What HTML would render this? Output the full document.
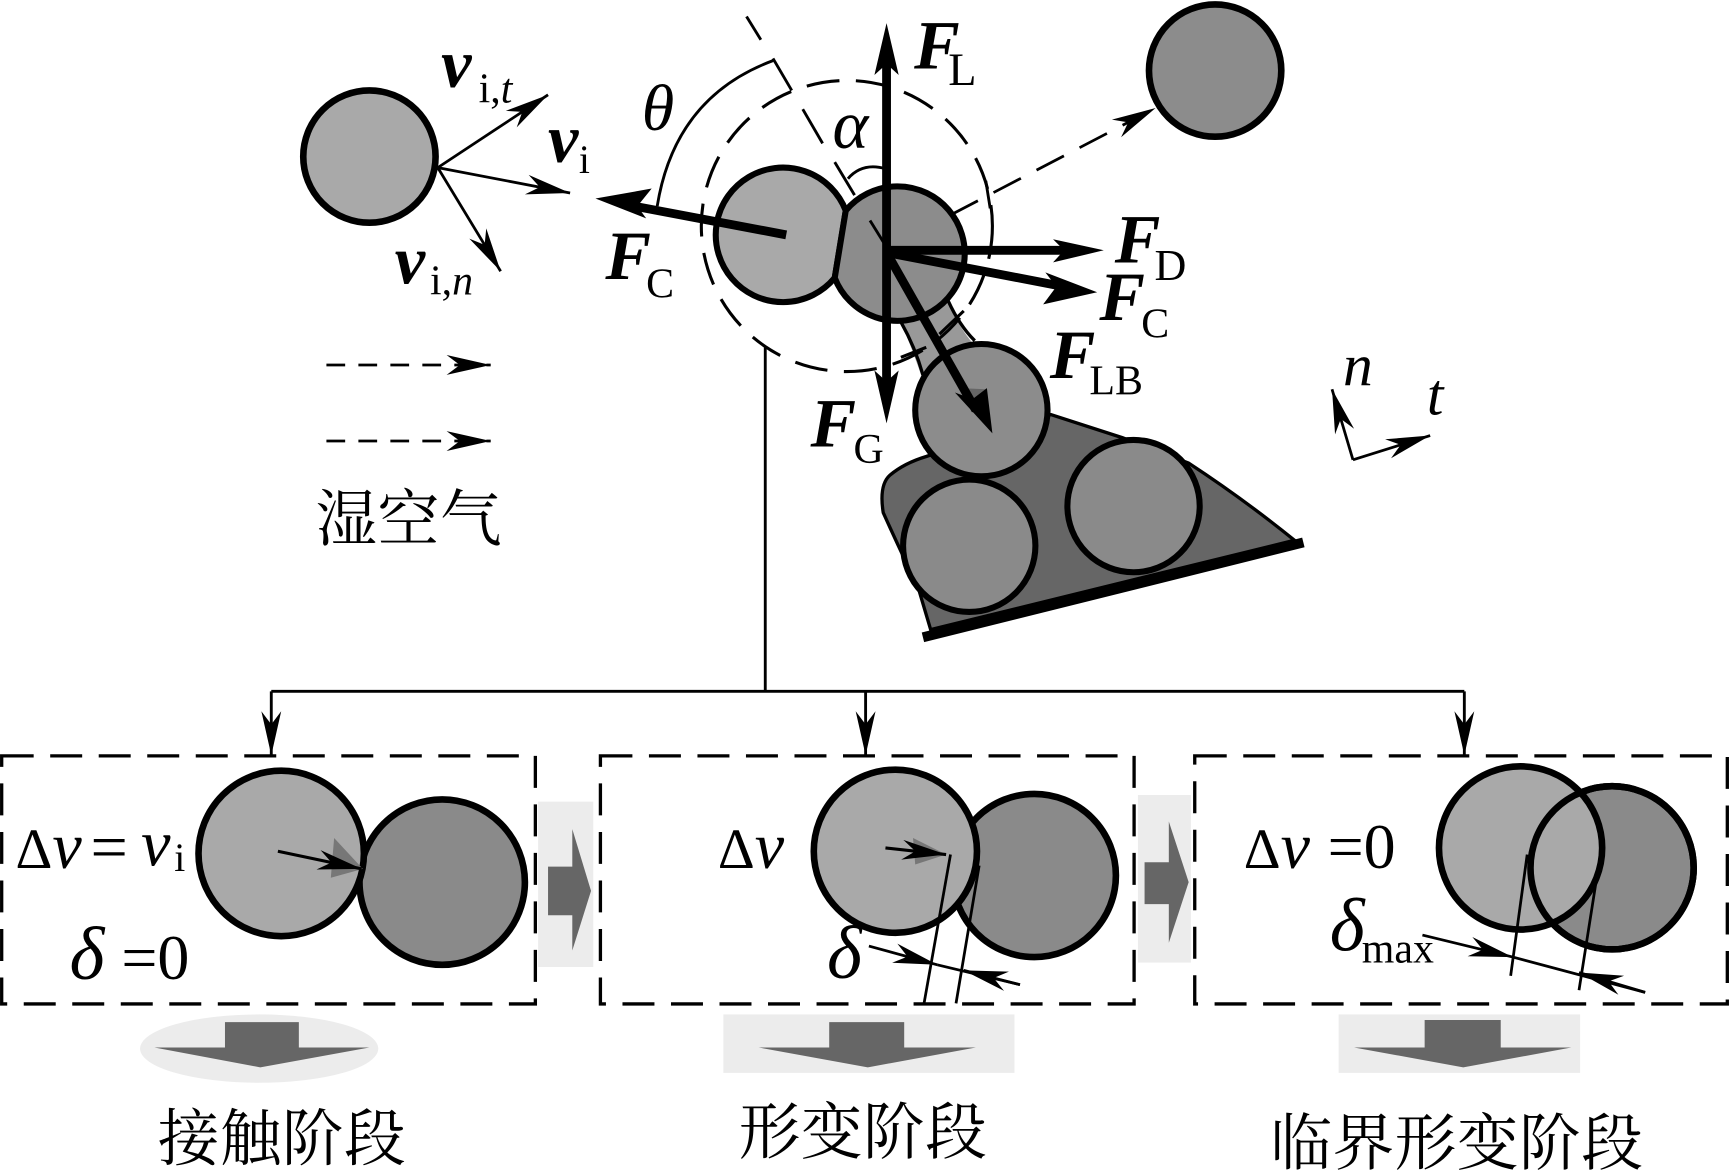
<!DOCTYPE html>
<html><head><meta charset="utf-8"><style>
html,body{margin:0;padding:0;background:#fff}
svg{display:block}
text{font-family:"Liberation Serif","Noto Serif CJK SC",serif;fill:#000}
.b{font-weight:bold;font-style:italic}
.i{font-style:italic}
.cj{font-family:"Liberation Serif","Noto Serif CJK SC",serif}
</style></head><body>
<svg width="1729" height="1171" viewBox="0 0 1568 1062" xmlns="http://www.w3.org/2000/svg">
<defs>
<marker id="t" markerUnits="userSpaceOnUse" markerWidth="44" markerHeight="24" refX="40" refY="12" orient="auto"><path d="M0 3L40 12L0 21L12 12Z" fill="#000"/></marker>
</defs>
<rect width="1568" height="1062" fill="#fff"/>

<!-- left free circle & velocities -->
<circle cx="335" cy="142" r="60" fill="#a9a9a9" stroke="#000" stroke-width="6"/>
<g stroke="#000" stroke-width="2.5" fill="none">
<line x1="397" y1="152" x2="497" y2="86" marker-end="url(#t)"/>
<line x1="397" y1="152" x2="517" y2="175" marker-end="url(#t)"/>
<line x1="397" y1="152" x2="454" y2="246" marker-end="url(#t)"/>
<line x1="296" y1="331" x2="445" y2="331" stroke-dasharray="17 12" marker-end="url(#t)"/>
<line x1="296" y1="400" x2="445" y2="400" stroke-dasharray="17 12" marker-end="url(#t)"/>
<line x1="862" y1="195" x2="1048" y2="98" stroke-dasharray="28 16" marker-end="url(#t)"/>
</g>

<!-- top right circle -->
<circle cx="1102" cy="64" r="60" fill="#8c8c8c" stroke="#000" stroke-width="6"/>

<!-- blob -->
<path d="M953 376L1018 397L1078 420Q1127 452 1174 490L844 571L833 534Q815 496 801 465Q797 440 807 431Q820 420 840 414Z" fill="#666" stroke="#000" stroke-width="3"/>
<line x1="837" y1="578" x2="1182" y2="492" stroke="#000" stroke-width="9"/>
<circle cx="1028" cy="459" r="60" fill="#8a8a8a" stroke="#000" stroke-width="5.5"/>
<circle cx="879" cy="495" r="60" fill="#8a8a8a" stroke="#000" stroke-width="5.5"/>

<!-- bridge -->
<path d="M817 292Q828 318 837 345L890 320Q870 300 860 273Z" fill="#999" stroke="none"/>
<path d="M817 292Q830 315 837 340M860 273Q870 295 884 309" fill="none" stroke="#000" stroke-width="3"/>
<circle cx="890" cy="372" r="60" fill="#8c8c8c" stroke="#000" stroke-width="5.5"/>
<path d="M871 352L894 353L893 372Z" fill="#666"/>

<!-- dashed influence circle -->
<circle cx="768" cy="205" r="132" fill="none" stroke="#000" stroke-width="2.8" stroke-dasharray="30 15"/>

<!-- central contacting pair -->
<path d="M767 191A61 61 0 1 0 757 252Z" fill="#a9a9a9" stroke="#000" stroke-width="5.5" stroke-linejoin="round"/>
<path d="M767 191A61 61 0 1 1 757 252Z" fill="#8c8c8c" stroke="#000" stroke-width="5.5" stroke-linejoin="round"/>
<line x1="817" y1="324" x2="840" y2="315" stroke="#000" stroke-width="2.8"/>
<line x1="852" y1="303" x2="874" y2="282" stroke="#000" stroke-width="2.8"/>

<!-- angle lines -->
<g stroke="#000" stroke-width="2.6" fill="none">
<line x1="677" y1="15" x2="690" y2="36"/>
<line x1="701" y1="53" x2="718" y2="82"/>
<line x1="728" y1="99" x2="746" y2="130"/>
<line x1="757" y1="147" x2="775" y2="177"/>
<line x1="789" y1="200" x2="807" y2="229"/>
<path d="M596 187Q612 88 701 55"/>
<path d="M769 162Q782 147 803 153"/>
<line x1="894" y1="164" x2="898" y2="189"/>
</g>

<!-- forces -->
<g stroke="#000" stroke-width="8" fill="none">
<line x1="804" y1="229" x2="804" y2="48"/>
<line x1="804" y1="229" x2="804" y2="356"/>
<line x1="804" y1="227" x2="975" y2="227"/>
<line x1="804" y1="229" x2="965" y2="260"/>
<line x1="804" y1="229" x2="885" y2="372"/>
<line x1="713" y1="213" x2="570" y2="186"/>
</g>
<g fill="#000">
<path d="M804 21L815 68L804 58L793 68Z"/>
<path d="M804 384L793 336L804 346L815 336Z"/>
<path d="M1001 227L955 217L965 227L955 238Z"/>
<path d="M995 265L948 247L958 260L946 276Z"/>
<path d="M900 393L866 356L882 362L895 352Z"/>
<path d="M540 180L591 171L578 187L586 198Z"/>
</g>

<!-- n t axes -->
<g stroke="#000" stroke-width="2.5" fill="none">
<line x1="1227" y1="417" x2="1208" y2="353" marker-end="url(#t)"/>
<line x1="1227" y1="417" x2="1297" y2="395" marker-end="url(#t)"/>
</g>

<!-- tree -->
<g stroke="#000" stroke-width="2.6" fill="none">
<line x1="694" y1="315" x2="694" y2="627"/>
<line x1="246" y1="627" x2="1328" y2="627"/>
<line x1="246" y1="627" x2="246" y2="685" marker-end="url(#t)"/>
<line x1="785" y1="627" x2="785" y2="685" marker-end="url(#t)"/>
<line x1="1328" y1="627" x2="1328" y2="685" marker-end="url(#t)"/>
</g>

<!-- boxes -->
<g stroke="#000" stroke-width="3" fill="none" stroke-dasharray="29 15">
<rect x="1.5" y="685.5" width="484" height="225"/>
<rect x="544.5" y="685.5" width="484" height="225"/>
<rect x="1083.5" y="685.5" width="483" height="225"/>
</g>

<!-- box 1 -->
<ellipse cx="401" cy="800" rx="75" ry="75" fill="#8a8a8a" stroke="#000" stroke-width="6"/>
<ellipse cx="255" cy="774" rx="75" ry="75" fill="#a9a9a9" stroke="#000" stroke-width="6"/>
<path d="M303 760L329 788L300 796Z" fill="#777"/>
<line x1="252" y1="772" x2="328" y2="788" stroke="#000" stroke-width="2.8" marker-end="url(#t)"/>

<!-- box 2 -->
<circle cx="938" cy="794" r="74" fill="#8a8a8a" stroke="#000" stroke-width="6"/>
<circle cx="812" cy="772" r="74" fill="#a9a9a9" stroke="#000" stroke-width="6"/>
<path d="M828 760L858 775L830 784Z" fill="#777"/>
<line x1="803" y1="769" x2="858" y2="775" stroke="#000" stroke-width="2.8" marker-end="url(#t)"/>
<g stroke="#000" stroke-width="2.5" fill="none">
<line x1="862" y1="775" x2="838" y2="910"/>
<line x1="888" y1="785" x2="867" y2="910"/>
<line x1="788" y1="858" x2="850" y2="875" marker-end="url(#t)"/>
<line x1="850" y1="875" x2="925" y2="893"/>
<line x1="925" y1="893" x2="874" y2="880" marker-end="url(#t)"/>
</g>

<!-- box 3 -->
<circle cx="1462" cy="787" r="74" fill="#8a8a8a" stroke="#000" stroke-width="6"/>
<circle cx="1379" cy="769" r="74" fill="#a9a9a9" stroke="#000" stroke-width="6"/>
<circle cx="1462" cy="787" r="74" fill="none" stroke="#000" stroke-width="6"/>
<g stroke="#000" stroke-width="2.5" fill="none">
<line x1="1385" y1="775" x2="1370" y2="885"/>
<line x1="1449" y1="790" x2="1432" y2="898"/>
<line x1="1290" y1="848" x2="1372" y2="868" marker-end="url(#t)"/>
<line x1="1372" y1="868" x2="1492" y2="900"/>
<line x1="1492" y1="900" x2="1432" y2="882" marker-end="url(#t)"/>
</g>

<!-- gray block arrows -->
<rect x="488" y="727" width="50" height="150" fill="#ececec"/>
<path d="M497 786H519V752L536 808L519 862V830H497Z" fill="#666"/>
<rect x="1032" y="721" width="48" height="152" fill="#ececec"/>
<path d="M1038 782H1060V745L1078 800L1060 855V820H1038Z" fill="#666"/>
<ellipse cx="235" cy="951" rx="108" ry="31" fill="#ececec"/>
<path d="M204 927H271V950H335L236 968L140 950H204Z" fill="#666"/>
<rect x="656" y="920" width="264" height="53" fill="#ececec"/>
<path d="M752 927H820V950H885L787 968L688 950H752Z" fill="#666"/>
<rect x="1214" y="920" width="219" height="53" fill="#ececec"/>
<path d="M1292 925H1361V950H1425L1327 968L1228 950H1292Z" fill="#666"/>

<!-- labels -->
<text x="400" y="79" class="b" font-size="62">v</text>
<text x="434" y="93" font-size="38">i,<tspan class="i">t</tspan></text>
<text x="497" y="147" class="b" font-size="62">v</text>
<text x="525" y="157" font-size="36">i</text>
<text x="358" y="257" class="b" font-size="62">v</text>
<text x="390" y="267" font-size="38">i,<tspan class="i">n</tspan></text>
<text x="829" y="62" class="b" font-size="62">F</text>
<text x="860" y="77" font-size="42">L</text>
<text x="1011" y="238" class="b" font-size="62">F</text>
<text x="1047" y="254" font-size="40">D</text>
<text x="997" y="290" class="b" font-size="62">F</text>
<text x="1035" y="306" font-size="38">C</text>
<text x="952" y="343" class="b" font-size="62">F</text>
<text x="988" y="358" font-size="38">LB</text>
<text x="735" y="405" class="b" font-size="62">F</text>
<text x="774" y="420" font-size="38">G</text>
<text x="549" y="253" class="b" font-size="62">F</text>
<text x="586" y="270" font-size="38">C</text>
<text x="582" y="118" class="i" font-size="60">θ</text>
<text x="755" y="134" class="i" font-size="62">α</text>
<text x="1218" y="349" class="i" font-size="54">n</text>
<text x="1294" y="376" class="i" font-size="54">t</text>

<text x="286" y="490" class="cj" font-size="56" textLength="169">湿空气</text>
<text x="143" y="1052" class="cj" font-size="56" textLength="225">接触阶段</text>
<text x="670" y="1046" class="cj" font-size="56" textLength="225">形变阶段</text>
<text x="1152" y="1056" class="cj" font-size="56" textLength="338">临界形变阶段</text>

<text x="14" y="787" font-size="52">Δ<tspan class="i" font-size="60">v</tspan></text>
<text x="82" y="788" font-size="60">=</text>
<text x="128" y="785" class="i" font-size="60">v</text>
<text x="158" y="790" font-size="36">i</text>
<text x="63" y="888" class="i" font-size="68">δ</text>
<text x="110" y="888" font-size="58">=0</text>

<text x="651" y="787" font-size="52">Δ<tspan class="i" font-size="60">v</tspan></text>
<text x="750" y="887" class="i" font-size="68">δ</text>

<text x="1128" y="787" font-size="52">Δ<tspan class="i" font-size="60">v</tspan></text>
<text x="1204" y="787" font-size="58">=0</text>
<text x="1206" y="862" class="i" font-size="68">δ</text>
<text x="1235" y="873" font-size="38">max</text>
</svg>
</body></html>
